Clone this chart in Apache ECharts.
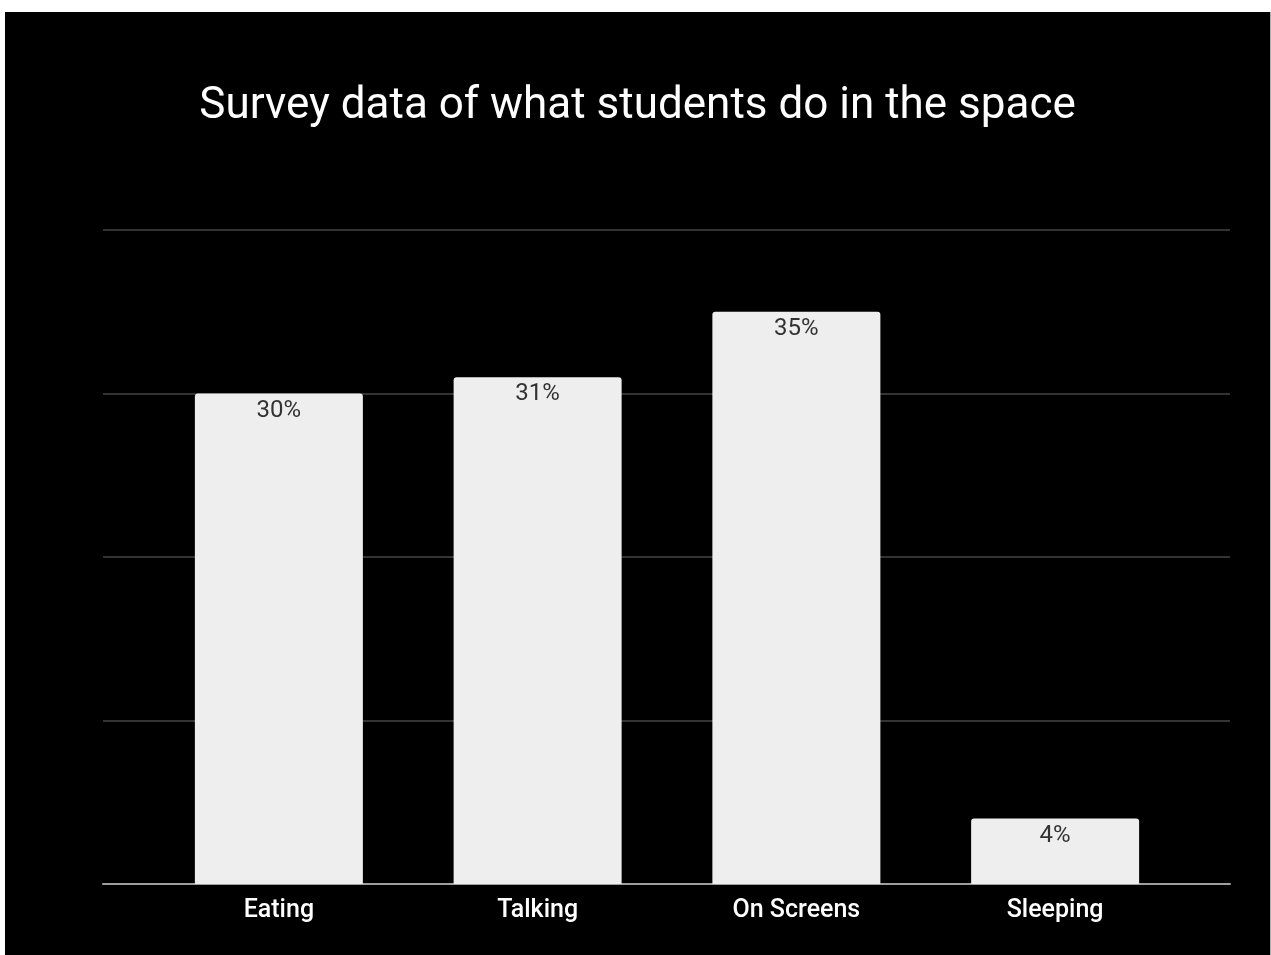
<!DOCTYPE html>
<html>
<head>
<meta charset="utf-8">
<script src="https://cdn.jsdelivr.net/npm/echarts@6/dist/echarts.min.js"></script>
<style>
  html, body { margin: 0; padding: 0; background: #ffffff; }
  #chart { position: absolute; left: 5px; top: 12px; width: 1265px; height: 943px; background: #000000; border-right: 1px solid #b0b0b0; }
</style>
</head>
<body>
<div id="chart"></div>
<script>
const titleText = 'Survey data of what students do in the space';
const categories = ['Eating', 'Talking', 'On Screens', 'Sleeping'];
const shares = [30, 31, 35, 4];
const yMax = 40;
const yStep = 10;

const chart = echarts.init(document.getElementById('chart'));
chart.setOption({
  backgroundColor: '#000000',
  animation: false,
  title: {
    text: titleText,
    left: 'center',
    top: 68,
    textStyle: { color: '#ffffff', fontFamily: 'Roboto', fontSize: 44, fontWeight: 'normal' }
  },
  grid: [
    // gridlines and baseline span the full plot width
    { left: 98, right: 40, top: 218, bottom: 71 },
    // bars sit in a narrower band
    { left: 144.5, right: 85.5, top: 218, bottom: 71 }
  ],
  xAxis: [
    {
      gridIndex: 0, type: 'category', data: [''],
      axisLine: { show: true, lineStyle: { color: '#9e9e9e', width: 2 } },
      axisTick: { show: false }, axisLabel: { show: false }
    },
    {
      gridIndex: 1, type: 'category', data: categories,
      axisLine: { show: false }, axisTick: { show: false },
      axisLabel: { color: '#ffffff', fontFamily: 'Roboto', fontSize: 25, fontWeight: 500, margin: 14 }
    }
  ],
  yAxis: [
    {
      gridIndex: 0, type: 'value', min: 0, max: yMax, interval: yStep,
      axisLine: { show: false }, axisTick: { show: false }, axisLabel: { show: false },
      splitLine: { lineStyle: { color: '#333333', width: 2 } }
    },
    {
      gridIndex: 1, type: 'value', min: 0, max: yMax, interval: yStep,
      axisLine: { show: false }, axisTick: { show: false }, axisLabel: { show: false },
      splitLine: { show: false }
    }
  ],
  series: [{
    type: 'bar',
    xAxisIndex: 1,
    yAxisIndex: 1,
    data: shares,
    barWidth: 168,
    itemStyle: { color: '#eeeeee', borderRadius: [3, 3, 0, 0] },
    label: {
      show: true,
      position: 'insideTop',
      distance: 5,
      formatter: p => p.value + '%',
      color: '#333333',
      fontFamily: 'Roboto',
      fontSize: 24
    }
  }]
});
</script>
</body>
</html>
